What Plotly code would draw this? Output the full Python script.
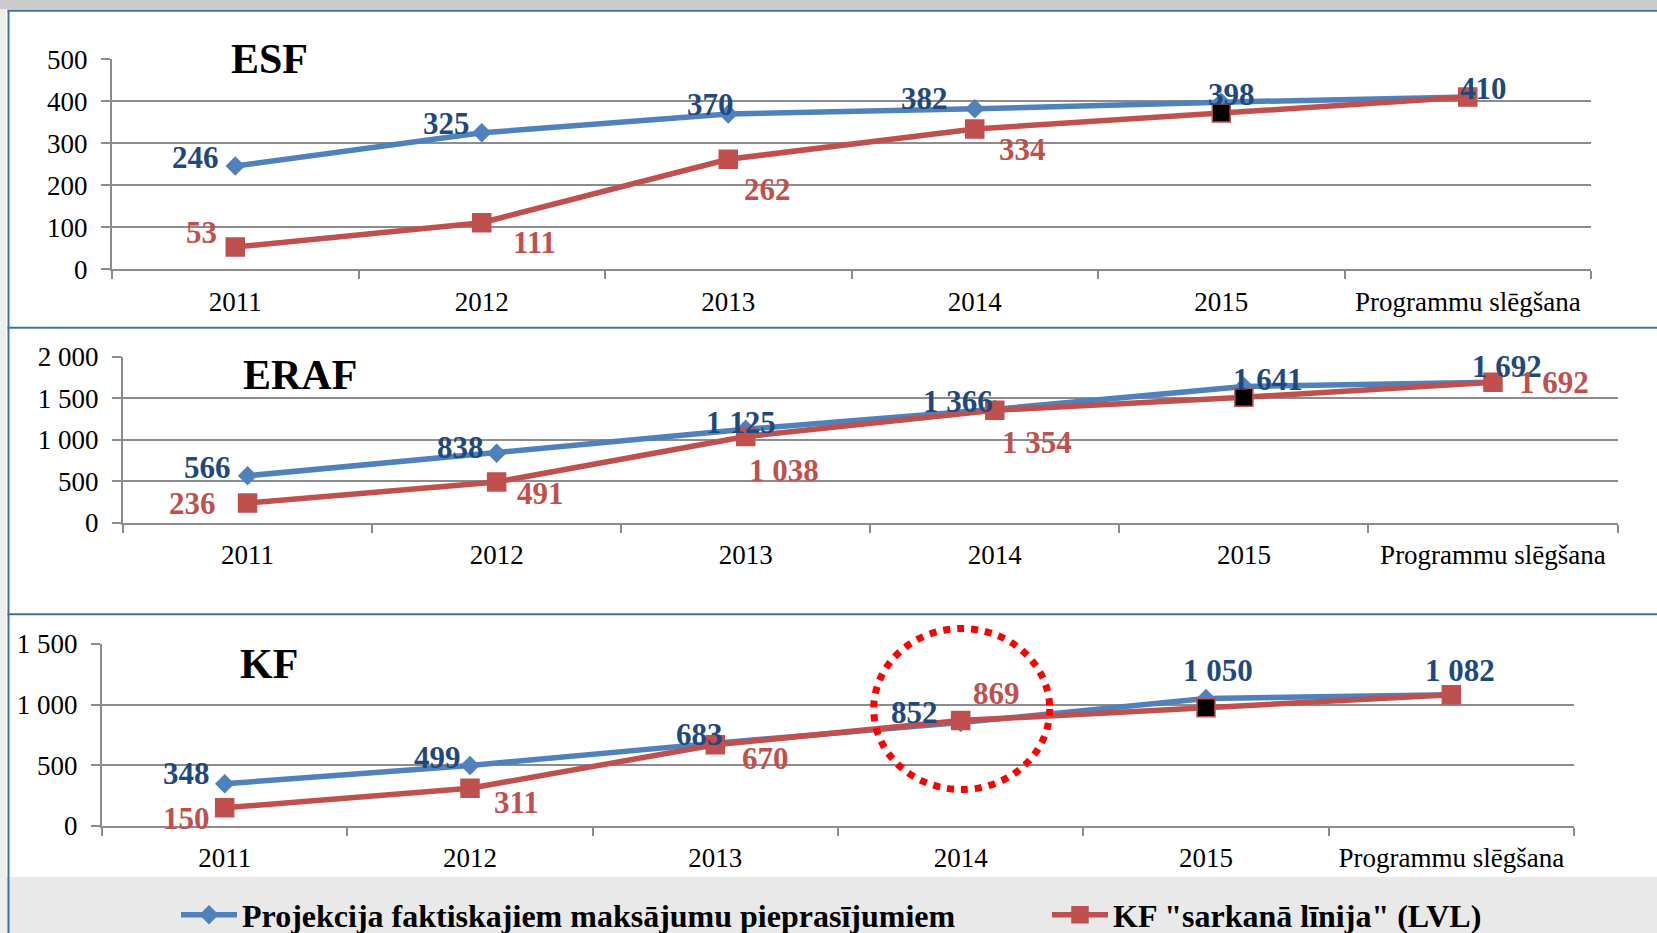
import plotly.graph_objects as go

# ---- data ----
categories = ["2011", "2012", "2013", "2014", "2015", "Programmu slēgšana"]

esf_projection = [246, 325, 370, 382, 398, 410]
esf_red_line = [53, 111, 262, 334, 372, 410]

eraf_projection = [566, 838, 1125, 1366, 1641, 1692]
eraf_red_line = [236, 491, 1038, 1354, 1512, 1692]

kf_projection = [348, 499, 683, 852, 1050, 1082]
kf_red_line = [150, 311, 670, 869, 975, 1082]

series_names = ["Projekcija faktiskajiem maksājumu pieprasījumiem",
                'KF "sarkanā līnija" (LVL)']
panel_titles = ["ESF", "ERAF", "KF"]

# ---- styling ----
W, H = 1657, 933
FONT = "Liberation Serif"
BLUE = "#4F81BD"
BLUE_TXT = "#1F497D"
RED = "#C0504D"
GRID = "#8C8C8C"
BORDER = "#41709F"

# panel geometry in pixels: x0, x1, y_top, y_bottom
panels = [
    dict(x=(112, 1591), y=(59.3, 269.3), rng=[0, 500], dtick=100,
         blue=esf_projection, red=esf_red_line, title_xy=(229, 59)),
    dict(x=(123, 1617.5), y=(356.7, 522.7), rng=[0, 2000], dtick=500,
         blue=eraf_projection, red=eraf_red_line, title_xy=(241, 375)),
    dict(x=(102, 1574), y=(644, 826), rng=[0, 1500], dtick=500,
         blue=kf_projection, red=kf_red_line, title_xy=(238, 664)),
]

# label offsets (px, right / up); None = no label
blue_offsets = [
    [(-40, 8), (-35, 9), (-18, 9), (-50, 10), (10, 8), (16, 9)],
    [(-40, 8), (-36, 6), (-5, 7), (-37, 8), (24, 7), (14, 16)],
    [(-38, 10), (-33, 8), (-16, 9), (-46, 10), (12, 28), (9, 24)],
]
red_offsets = [
    [(-34, 15), (53, -20), (39, -30), (48, -20), None, None],
    [(-55, 0), (44, -12), (38, -34), (42, -32), None, (61, 0)],
    [(-38, -11), (46, -14), (50, -14), (36, 27), None, None],
]


def fmt(v):
    return f"{v:,}".replace(",", " ")


fig = go.Figure()
annotations = []
red_marker_colors = ["black" if c == "2015" else RED for c in categories]

for i, p in enumerate(panels, start=1):
    xa = "x" if i == 1 else f"x{i}"
    ya = "y" if i == 1 else f"y{i}"
    fig.add_trace(go.Scatter(
        x=categories, y=p["blue"], name=series_names[0], xaxis=xa, yaxis=ya,
        mode="lines+markers", line=dict(color=BLUE, width=5.5),
        marker=dict(symbol="diamond", size=15, color=BLUE),
        showlegend=(i == 1), legend="legend", cliponaxis=False,
    ))
    fig.add_trace(go.Scatter(
        x=categories, y=p["red"], name=series_names[1], xaxis=xa, yaxis=ya,
        mode="lines+markers", line=dict(color=RED, width=5.5),
        marker=dict(symbol="square", size=18, color=red_marker_colors,
                    line=dict(color=RED, width=1.5)),
        showlegend=(i == 1), legend="legend2", cliponaxis=False,
    ))

    x0, x1 = p["x"]
    yt, yb = p["y"]
    axis_common = dict(linecolor=GRID, linewidth=2, ticks="outside",
                       tickcolor=GRID, tickwidth=1.5,
                       tickfont=dict(family=FONT, size=27, color="black"))
    fig.update_layout({
        ("xaxis" if i == 1 else f"xaxis{i}"): dict(
            domain=[x0 / W, x1 / W], anchor=ya, type="category",
            range=[-0.5, len(categories) - 0.5], tickson="boundaries",
            ticklen=8, showgrid=False, showline=True, ticklabelstandoff=7,
            **axis_common),
        ("yaxis" if i == 1 else f"yaxis{i}"): dict(
            domain=[1 - yb / H, 1 - yt / H], anchor=xa, range=p["rng"],
            dtick=p["dtick"], ticklen=9, showgrid=True, gridcolor=GRID,
            gridwidth=2, zeroline=False, showline=True, separatethousands=True,
            ticklabelstandoff=8, **axis_common),
    })

    for j in range(len(categories)):
        for vals, offs, col in ((p["blue"], blue_offsets[i - 1], BLUE_TXT),
                                (p["red"], red_offsets[i - 1], RED)):
            off = offs[j]
            if off is None:
                continue
            annotations.append(dict(
                x=j, y=vals[j], xref=xa, yref=ya, text=fmt(vals[j]),
                showarrow=False, xshift=off[0], yshift=off[1],
                font=dict(family=FONT, size=31, color=col, weight="bold")))

    tx, ty = p["title_xy"]
    annotations.append(dict(
        x=tx / W, y=1 - ty / H, xref="paper", yref="paper", xanchor="left",
        yanchor="middle", text=f"<b>{panel_titles[i - 1]}</b>", showarrow=False,
        font=dict(family=FONT, size=42, color="black")))

shapes = [
    # grey strip on top, legend band and left strip
    dict(type="rect", xref="paper", yref="paper", x0=0, x1=1, y0=1 - 9.5 / H, y1=1,
         fillcolor="#CCCCCC", line_width=0, layer="below"),
    dict(type="rect", xref="paper", yref="paper", x0=0, x1=1, y0=0, y1=1 - 877 / H,
         fillcolor="#E9E9E9", line_width=0, layer="below"),
    dict(type="rect", xref="paper", yref="paper", x0=0, x1=6 / W, y0=0, y1=1 - 9.5 / H,
         fillcolor="#EEEEEE", line_width=0, layer="below"),
    # panel borders
    dict(type="line", xref="paper", yref="paper", x0=7.5 / W, x1=1, y0=1 - 10.8 / H,
         y1=1 - 10.8 / H, line=dict(color=BORDER, width=2)),
    dict(type="line", xref="paper", yref="paper", x0=7.5 / W, x1=1, y0=1 - 327.8 / H,
         y1=1 - 327.8 / H, line=dict(color=BORDER, width=2)),
    dict(type="line", xref="paper", yref="paper", x0=7.5 / W, x1=1, y0=1 - 614.3 / H,
         y1=1 - 614.3 / H, line=dict(color=BORDER, width=2)),
    dict(type="line", xref="paper", yref="paper", x0=8.5 / W, x1=8.5 / W, y0=0,
         y1=1 - 10 / H, line=dict(color=BORDER, width=2)),
    # dotted red highlight around KF 2014
    dict(type="circle", xref="paper", yref="paper", x0=(961.7 - 88) / W,
         x1=(961.7 + 88) / W, y0=1 - (709 + 80.5) / H, y1=1 - (709 - 80.5) / H,
         line=dict(color="#FF0000", width=7, dash="dot")),
]

legend_style = dict(orientation="h", xanchor="left", yanchor="middle",
                    bgcolor="rgba(0,0,0,0)", borderwidth=0, itemwidth=56,
                    font=dict(family=FONT, size=32, color="black", weight="bold"))

fig.update_layout(
    width=W, height=H, margin=dict(l=0, r=0, t=0, b=0, autoexpand=False),
    paper_bgcolor="white", plot_bgcolor="rgba(0,0,0,0)",
    separators=". ", annotations=annotations, shapes=shapes,
    showlegend=True,
    legend=dict(x=176 / W, y=1 - 915 / H, **legend_style),
    legend2=dict(x=1047 / W, y=1 - 915 / H, **legend_style),
)

# drop the default page margin so the figure fills the window exactly
fig.write_html("out.html", config={"displayModeBar": False},
               post_script="document.body.style.margin = '0px';")
